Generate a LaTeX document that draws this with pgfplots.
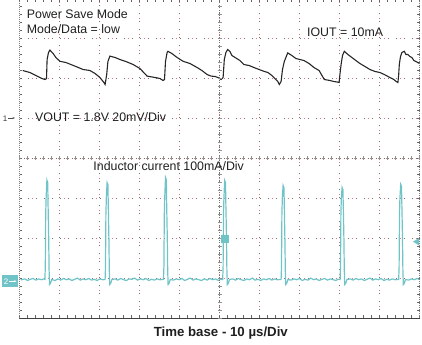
\documentclass[border=0pt]{standalone}
\usepackage{fontspec}
\setmainfont{Liberation Sans}
\usepackage{pgfplots}
\pgfplotsset{compat=1.18}
\usetikzlibrary{arrows.meta}
\definecolor{tealtr}{RGB}{112,196,200}
\definecolor{gridred}{RGB}{225,120,120}
\begin{document}
\begin{tikzpicture}[x=1bp,y=1bp]
\useasboundingbox (0,0) rectangle (422,345);
\begin{axis}[at={(19.5bp,26.5bp)}, anchor=south west, scale only axis,
  width=400bp, height=320bp, xmin=0, xmax=100, ymin=0, ymax=8,
  xtick={0,10,...,100}, ytick={0,...,8}, minor x tick num=4, minor y tick num=4,
  xticklabels={}, yticklabels={}, tick align=inside,
  major tick length=3bp, minor tick length=3bp,
  tick style={black!60, line width=0.5bp},
  axis line style={draw=none},
  grid=major, major grid style={black!55, line width=1bp, dash pattern=on 1bp off 7bp},
  extra x ticks={10,20,...,90}, extra y ticks={1,...,7},
  extra x tick labels={}, extra y tick labels={},
  extra tick style={grid=major, major tick length=0pt,
    major grid style={gridred, line width=0.7bp, dash pattern=on 0.7bp off 15.3bp, dash phase=4bp}},
  clip=true]
% VOUT trace (time in us, vertical in divisions)
\addplot[black!85, line width=1.1bp] coordinates {
(0.8,6.2)(2.6,6.15)(3.6,6.1)(4.6,6.05)(5.6,6.0)(6.4,5.975)(6.75,6.0)(6.9,6.475)(7.25,6.65)(7.6,6.71)
(8.4,6.625)(9.1,6.525)(10.1,6.43)(11.6,6.4)(12.6,6.36)(14.1,6.3)(15.9,6.225)(17.6,6.2)(18.9,6.125)
(20.1,6.025)(21.1,5.9)(21.4,5.85)(21.8,6.1)(22.1,6.425)(22.6,6.56)(23.9,6.525)(25.1,6.475)(26.6,6.425)
(28.4,6.35)(30.1,6.25)(31.9,6.06)(33.9,6.025)(35.1,6.0)(35.9,5.95)(36.25,5.975)(36.5,6.425)(36.9,6.65)
(37.1,6.68)(38.1,6.625)(39.4,6.525)(40.9,6.43)(42.6,6.375)(44.4,6.275)(45.6,6.2)(46.9,6.1)(47.9,6.06)
(48.9,6.05)(49.6,6.025)(50.4,5.975)(50.9,6.025)(51.2,6.475)(51.6,6.65)(52.05,6.725)(52.6,6.675)
(53.1,6.575)(53.9,6.525)(55.1,6.45)(56.1,6.35)(57.4,6.325)(58.6,6.275)(59.9,6.225)(61.1,6.18)
(62.1,6.15)(63.1,6.075)(64.55,5.93)(64.95,5.85)(65.4,5.925)(65.75,6.225)(66.2,6.425)(67.05,6.64)
(68.1,6.575)(69.1,6.5)(70.1,6.475)(71.1,6.45)(72.4,6.375)(73.6,6.275)(74.9,6.2)(76.2,5.975)
(77.6,5.95)(78.6,5.925)(79.55,5.91)(79.9,5.9)(80.1,6.1)(80.4,6.35)(80.75,6.575)(81.2,6.68)
(82.1,6.6)(83.1,6.525)(84.1,6.45)(85.1,6.375)(86.2,6.31)(87.6,6.225)(88.9,6.175)(90.1,6.15)
(91.2,6.1)(92.6,6.025)(93.6,5.975)(94.1,5.93)(94.6,5.9)(94.8,6.1)(94.95,6.35)(95.25,6.55)
(95.6,6.65)(96.2,6.68)(96.6,6.6)(97.1,6.6)(97.6,6.55)(98.1,6.525)(98.6,6.45)(99.1,6.425)(100,6.375)
};
% Inductor current trace
\addplot[tealtr, line width=1.2bp] coordinates {
(0.3,0.97)(0.6,0.97)(1.3,0.99)(2.0,0.95)(2.7,0.98)(3.4,1.0)(4.1,0.96)(4.8,0.99)(5.5,0.97)(6.0,0.99)
(6.35,0.975)(6.45,1.3)(6.55,2.6)(6.65,3.0)(6.85,3.46)(7.05,3.4)(7.15,2.8)(7.3,2.0)(7.4,1.2)(7.5,0.85)(7.75,0.88)(8.05,0.975)
(8.9,0.95)(9.6,0.99)(10.3,0.96)(11.0,1.0)(11.7,0.97)(12.4,0.99)(13.1,0.95)(13.8,0.98)(14.5,1.01)
(15.2,0.96)(15.9,0.99)(16.6,0.97)(17.3,1.0)(18.0,0.96)(18.7,0.98)(19.4,0.95)(20.1,0.99)(20.8,0.97)
(21.4,0.975)(21.5,1.3)(21.6,2.6)(21.7,3.0)(21.9,3.4)(22.1,3.35)(22.2,2.8)(22.35,2.0)(22.45,1.2)(22.55,0.85)(22.8,0.88)(23.1,0.975)
(23.9,0.99)(24.6,0.96)(25.3,1.0)(26.0,0.97)(26.7,0.95)(27.4,0.99)(28.1,0.98)(28.8,1.01)(29.5,0.96)
(30.2,0.99)(30.9,0.97)(31.6,1.0)(32.3,0.95)(33.0,0.98)(33.7,0.96)(34.4,0.99)(35.1,0.97)
(36.0,0.975)(36.1,1.3)(36.2,2.6)(36.3,3.0)(36.5,3.525)(36.7,3.47)(36.8,2.8)(36.95,2.0)(37.05,1.2)(37.15,0.85)(37.4,0.88)(37.7,0.975)
(38.5,0.96)(39.2,0.99)(39.9,0.97)(40.6,1.0)(41.3,0.95)(42.0,0.98)(42.7,1.01)(43.4,0.96)(44.1,0.99)
(44.8,0.97)(45.5,0.95)(46.2,0.99)(46.9,0.96)(47.6,1.0)(48.3,0.97)(49.0,0.99)(49.7,0.95)(50.2,0.98)
(50.8,0.975)(50.9,1.3)(51.0,2.6)(51.1,3.0)(51.3,3.45)(51.5,3.4)(51.6,2.8)(51.75,2.0)(51.85,1.2)(51.95,0.85)(52.2,0.88)(52.5,0.975)
(53.3,0.99)(54.0,0.96)(54.7,1.0)(55.4,0.97)(56.1,0.95)(56.8,0.99)(57.5,0.97)(58.2,1.01)(58.9,0.96)
(59.6,0.98)(60.3,0.95)(61.0,0.99)(61.7,0.97)(62.4,1.0)(63.1,0.96)(63.8,0.99)(64.5,0.97)
(65.4,0.975)(65.5,1.3)(65.6,2.6)(65.7,3.0)(65.9,3.325)(66.1,3.27)(66.2,2.8)(66.35,2.0)(66.45,1.2)(66.55,0.85)(66.8,0.88)(67.1,0.975)
(67.9,0.96)(68.6,0.99)(69.3,0.97)(70.0,1.0)(70.7,0.95)(71.4,0.98)(72.1,0.96)(72.8,1.01)(73.5,0.97)
(74.2,0.99)(74.9,0.95)(75.6,0.98)(76.3,1.0)(77.0,0.96)(77.7,0.99)(78.4,0.97)(79.1,0.95)(79.6,0.98)
(80.15,0.975)(80.25,1.3)(80.35,2.6)(80.45,3.0)(80.65,3.275)(80.85,3.22)(80.95,2.8)(81.1,2.0)(81.2,1.2)(81.3,0.85)(81.55,0.88)(81.85,0.975)
(82.7,0.99)(83.4,0.96)(84.1,1.0)(84.8,0.97)(85.5,0.99)(86.2,0.95)(86.9,0.98)(87.6,1.01)(88.3,0.96)
(89.0,0.99)(89.7,0.97)(90.4,1.0)(91.1,0.95)(91.8,0.98)(92.5,0.96)(93.2,0.99)(93.9,0.97)
(94.8,0.975)(94.9,1.3)(95.0,2.6)(95.1,3.0)(95.3,3.35)(95.5,3.3)(95.6,2.8)(95.75,2.0)(95.85,1.2)(95.95,0.85)(96.2,0.88)(96.5,0.975)
(97.3,0.96)(98.0,0.99)(98.7,0.97)(99.4,1.0)(100,0.97)
};
\end{axis}
% frame
\draw[gray, line width=0.8bp, dash pattern=on 1bp off 1bp] (19.5,26.5) -- (19.5,347);
\draw[gray, line width=0.8bp, dash pattern=on 1bp off 1bp] (419.5,26.5) -- (419.5,347);
\draw[black!75, line width=0.8bp] (19.5,26.5) -- (419.5,26.5);
% centre cross
\draw[black!55, line width=0.8bp, dash pattern=on 1bp off 1.5bp] (219.5,26.5) -- (219.5,347);
\draw[black!55, line width=0.8bp, dash pattern=on 1bp off 3bp] (19.5,186.5) -- (419.5,186.5);
\draw[gridred, line width=0.7bp, dash pattern=on 0.8bp off 7.2bp, dash phase=2bp] (19.5,186.5) -- (419.5,186.5);
\foreach \k in {0,...,40} \draw[gray!85, line width=0.6bp] (217.5,{26.5+8*\k}) -- (221.5,{26.5+8*\k});
\foreach \k in {0,...,50} \draw[gray!85, line width=0.6bp] ({19.5+8*\k},184.5) -- ({19.5+8*\k},188.5);
% markers
\node[anchor=base, inner sep=0, font=\fontsize{8}{8}\selectfont, text=black!80] at (5,224) {1};
\draw[black!70, line width=0.6bp, -{Stealth[length=2.5bp]}] (8,227) -- (15,227);
\fill[tealtr] (1.7,57.7) rectangle (18.3,70);
\node[anchor=base, inner sep=0, font=\fontsize{8}{8}\selectfont, text=white] at (6,60.8) {2};
\draw[white, line width=0.8bp, -{Stealth[length=2.5bp]}] (9,63.8) -- (16.5,63.8);
\fill[tealtr] (221,101.7) rectangle (229.3,110);
\fill[tealtr] (413,103.3) -- (419,107) -- (419,99.6) -- cycle;
% texts
\begin{scope}[every node/.style={inner sep=0, text=black!88, font=\fontsize{12.4}{14}\selectfont}]
\node[anchor=base west] at (26.7,326.5) {Power Save Mode};
\node[anchor=base west] at (26.7,311.7) {Mode/Data = low};
\node[anchor=base west] at (307,308.3) {IOUT = 10mA};
\node[anchor=base west] at (35,223.3) {VOUT = 1.8V 20mV/Div};
\node[anchor=base west] at (93.3,174.3) {Inductor current 100mA/Div};
\node[anchor=base, font=\bfseries\fontsize{13.3}{15}\selectfont] at (220.8,9) {Time base - 10 µs/Div};
\end{scope}
\end{tikzpicture}
\end{document}
